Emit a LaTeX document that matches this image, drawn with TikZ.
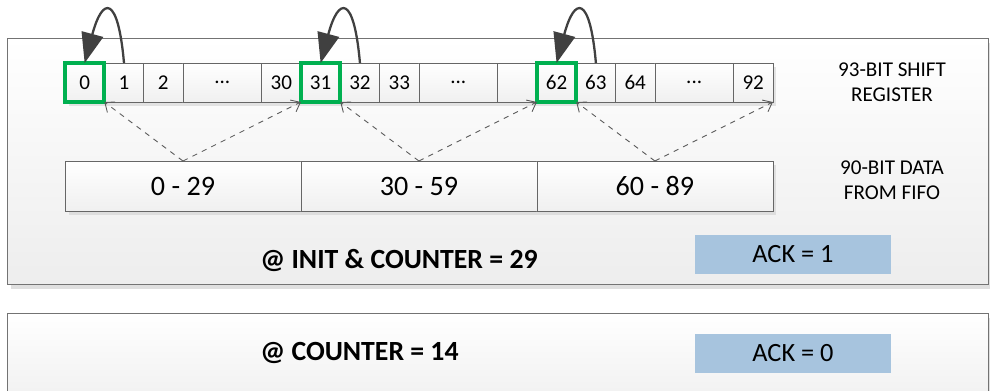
\documentclass[tikz,border=0pt]{standalone}
\usepackage{fontspec}
\setmainfont{Carlito}
\usetikzlibrary{positioning,arrows.meta,shadows}

\definecolor{ackblue}{RGB}{167,196,222}
\definecolor{pickgreen}{RGB}{0,176,80}

\begin{document}
\begin{tikzpicture}[x=0.02cm,y=-0.02cm,node distance=0pt,
	panel/.style={draw=black!55,top color=white,bottom color=black!7,
		drop shadow={shadow xshift=2pt,shadow yshift=-3pt,fill=black!25}},
	cell/.style={draw=black!60,top color=white,bottom color=black!6,
		minimum width=0.7867cm,minimum height=0.78cm,inner sep=0pt,outer sep=0pt,
		drop shadow={shadow xshift=2pt,shadow yshift=-2pt,fill=black!20},
		font=\fontsize{12}{14}\selectfont},
	wide/.style={cell,minimum width=1.5733cm},
	chunk/.style={cell,minimum width=4.72cm,minimum height=1cm,font=\fontsize{16}{19}\selectfont},
	pick/.style={draw=pickgreen,line width=2.2pt},
	hop/.style={-{Triangle[length=0.6cm,width=0.44cm]},black!75,line width=1.3pt},
	feed/.style={-{Straight Barb[length=1.6mm,width=2.6mm]},dashed,black!65,line width=0.5pt},
	note/.style={align=center,font=\fontsize{12}{14.2}\selectfont},
	title/.style={anchor=west,inner sep=0pt,font=\bfseries\fontsize{15.8}{19}\selectfont},
	ack/.style={fill=ackblue,minimum width=3.94cm,minimum height=0.78cm,inner sep=0pt,
		font=\fontsize{15}{18}\selectfont}]
	\useasboundingbox (0,0) rectangle (990,390);
	\clip (0,0) rectangle (990,390);
	\draw[panel] (7,38) rectangle (988,284);
	\draw[panel] (7,313) rectangle (988,420);

	\node[cell,anchor=west](c0) at (65,82.5) {0};
	\node[cell](c1)[right=of c0] {1};
	\node[cell](c2)[right=of c1] {2};
	\node[wide](e1)[right=of c2] {...};
	\node[cell](c30)[right=of e1] {30};
	\node[cell](c31)[right=of c30] {31};
	\node[cell](c32)[right=of c31] {32};
	\node[cell](c33)[right=of c32] {33};
	\node[wide](e2)[right=of c33] {...};
	\node[cell](c61)[right=of e2] {};
	\node[cell](c62)[right=of c61] {62};
	\node[cell](c63)[right=of c62] {63};
	\node[cell](c64)[right=of c63] {64};
	\node[wide](e3)[right=of c64] {...};
	\node[cell](c92)[right=of e3] {92};

	\node[chunk,anchor=north west](d1) at (65,161) {0 - 29};
	\node[chunk](d2)[right=of d1] {30 - 59};
	\node[chunk](d3)[right=of d2] {60 - 89};

	\node[note](reg) at (892,82) {93-BIT SHIFT\\REGISTER};
	\node[note](fifo) at (892,180.5) {90-BIT DATA\\FROM FIFO};

	\draw[pick] (c0.south west) rectangle (c0.north east);
	\draw[pick] (c31.south west) rectangle (c31.north east);
	\draw[pick] (c62.south west) rectangle (c62.north east);

	\path[hop]
	(c1.north) edge [out=95,in=75,looseness=4.5] (c0.north)
	(c32.north) edge [out=95,in=75,looseness=4.5] (c31.north)
	(c63.north) edge [out=95,in=75,looseness=4.5] (c62.north);
	\path[feed]
	(d1.north) edge (c0.south east) edge (c31.south west)
	(d2.north) edge (c31.south east) edge (c62.south west)
	(d3.north) edge (c62.south east) edge (c92.south east);

	\node[title](init) at (260,260) {@ INIT \& COUNTER = 29};
	\node[ack](ack1) at (793,254.5) {ACK = 1};
	\node[title](count) at (260,353) {@ COUNTER = 14};
	\node[ack](ack0) at (793,353) {ACK = 0};
\end{tikzpicture}
\end{document}
